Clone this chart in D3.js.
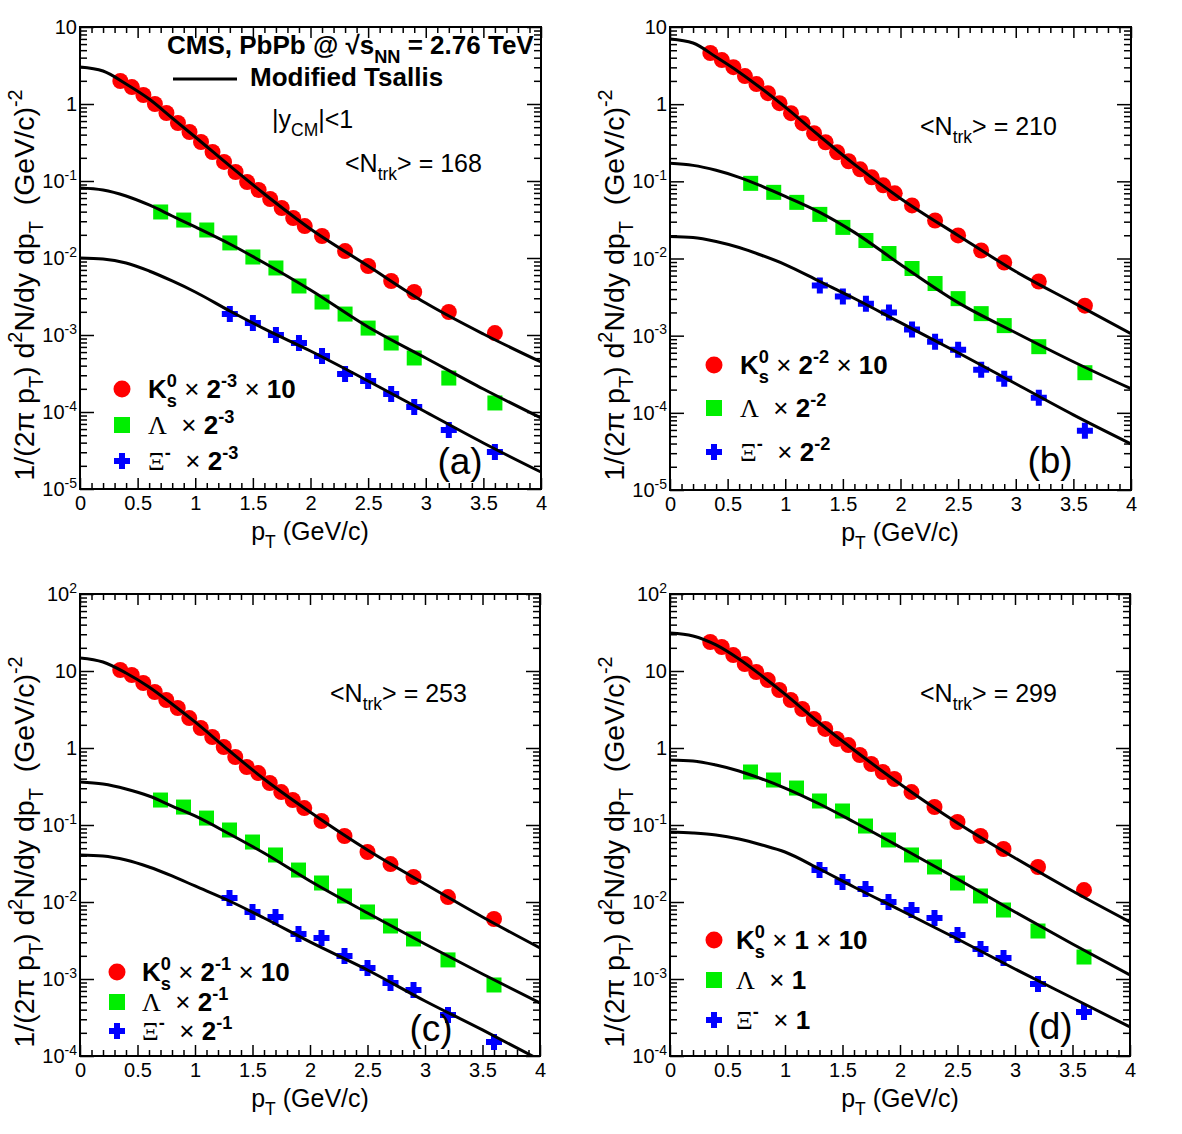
<!DOCTYPE html>
<html>
<head>
<meta charset="utf-8">
<script src="https://cdn.jsdelivr.net/npm/d3@7"></script>
<style>
  body { margin: 0; background: #fff; }
  svg text { white-space: pre; }
</style>
</head>
<body>
<svg id="chart" width="1182" height="1134"></svg>
<script>
// pT bin centres (GeV/c)
var ptK   = [0.35,0.45,0.55,0.65,0.75,0.85,0.95,1.05,1.15,1.25,1.35,1.45,1.55,1.65,1.75,1.85,1.95,2.1,2.3,2.5,2.7,2.9,3.2,3.6];
var ptLam = [0.7,0.9,1.1,1.3,1.5,1.7,1.9,2.1,2.3,2.5,2.7,2.9,3.2,3.6];
var ptXi  = [1.3,1.5,1.7,1.9,2.1,2.3,2.5,2.7,2.9,3.2,3.6];
var ptFit = [0,0.2,0.4,0.6,0.8,1.0,1.3,1.6,2.0,2.5,3.0,3.5,4.0];

// (a) <Ntrk> = 168
var kA   = [1.99,1.66,1.31,1.00,0.764,0.567,0.433,0.321,0.238,0.177,0.131,0.097,0.0764,0.0584,0.0446,0.0331,0.026,0.0193,0.0123,0.00787,0.00503,0.00362,0.00199,0.00106];
var lamA = [0.0396,0.0311,0.0231,0.0157,0.0103,0.00742,0.00433,0.00268,0.00187,0.00123,0.000787,0.000503,0.000276,0.000131];
var xiA  = [0.00187,0.00143,0.00100,0.000787,0.000534,0.000311,0.000253,0.000171,0.000116,5.84e-5,3.02e-5];
var fitKA   = [3.02,2.68,1.82,1.16,0.658,0.373,0.157,0.0678,0.0238,0.00787,0.0026,0.00103,0.000446];
var fitLamA = [0.0811,0.0764,0.0639,0.0488,0.0351,0.0253,0.0152,0.00861,0.00384,0.00127,0.000503,0.000199,8.36e-5];
var fitXiA  = [0.0100,0.0097,0.00861,0.00678,0.00503,0.00362,0.00205,0.0012,0.00062,0.000253,0.0001,3.96e-5,1.66e-5];

// (b) <Ntrk> = 210
var kB   = [4.60,3.73,3.02,2.31,1.82,1.39,1.03,0.764,0.567,0.420,0.321,0.238,0.182,0.143,0.1127,0.0887,0.0699,0.0488,0.0311,0.0199,0.0127,0.00887,0.00503,0.00245];
var lamB = [0.0942,0.0720,0.0534,0.0373,0.0253,0.0171,0.0116,0.00742,0.00474,0.00302,0.00193,0.00135,0.00072,0.000331];
var xiB  = [0.00446,0.00321,0.0026,0.00199,0.0012,0.000836,0.000658,0.000362,0.000276,0.000157,5.84e-5];
var fitKB   = [6.99,6.2,4.08,2.60,1.57,0.914,0.384,0.166,0.0601,0.0199,0.00678,0.00268,0.00106];
var fitLamB = [0.171,0.161,0.139,0.1127,0.0861,0.0639,0.0396,0.0218,0.00836,0.00268,0.00109,0.000459,0.000205];
var fitXiB  = [0.0193,0.01874,0.01663,0.01389,0.01094,0.00836,0.00503,0.00303,0.001475,0.000601,0.000238,9.42e-5,3.96e-5];

// (c) <Ntrk> = 253
var kC   = [10.3,8.88,6.99,5.34,4.20,3.31,2.45,1.82,1.39,1.03,0.764,0.567,0.473,0.351,0.268,0.211,0.166,0.1127,0.0720,0.0446,0.0311,0.0211,0.0116,0.00601];
var lamC = [0.211,0.171,0.123,0.0861,0.0601,0.0408,0.0260,0.01765,0.01197,0.00742,0.00488,0.00331,0.00177,0.000836];
var xiC  = [0.01127,0.00742,0.00639,0.00384,0.00341,0.00199,0.00139,0.000887,0.00072,0.000341,0.000152];
var fitKC   = [14.8,13.1,9.42,6.2,3.73,2.18,0.914,0.396,0.1475,0.0473,0.01713,0.00639,0.00253];
var fitLamC = [0.362,0.341,0.294,0.238,0.1765,0.131,0.0764,0.0433,0.01874,0.0072,0.00285,0.00116,0.000488];
var fitXiC  = [0.0408,0.0396,0.0351,0.0285,0.0218,0.01614,0.0103,0.0062,0.00303,0.00131,0.000518,0.000218,8.87e-5];

// (d) <Ntrk> = 299
var kD   = [23.8,20.5,16.1,12.3,9.70,7.64,5.67,4.20,3.21,2.38,1.77,1.31,1.09,0.811,0.620,0.488,0.396,0.268,0.1713,0.1094,0.0720,0.0488,0.0285,0.0143];
var lamD = [0.488,0.384,0.302,0.205,0.152,0.097,0.0639,0.0408,0.0285,0.01765,0.01197,0.00787,0.0042,0.00193];
var xiD  = [0.026,0.0182,0.01475,0.0100,0.00787,0.0062,0.00373,0.00245,0.00187,0.000861,0.000373];
var fitKD   = [31.2,28.5,21.8,14.3,8.61,5.02,2.11,0.942,0.341,0.106,0.0373,0.01389,0.0055];
var fitLamD = [0.698,0.678,0.601,0.503,0.396,0.302,0.1874,0.1094,0.0518,0.0199,0.00742,0.00285,0.001127];
var fitXiD  = [0.0811,0.0787,0.0742,0.0658,0.055,0.0446,0.0268,0.01566,0.00787,0.00331,0.00135,0.000566,0.000238];

var nTrk = [168, 210, 253, 299];
var panelNames = ["(a)", "(b)", "(c)", "(d)"];
var scaleLabels = ["2", "2", "2", "1"];
var scaleExps = ["-3", "-2", "-1", null];
var xTickVals = [0, 0.5, 1, 1.5, 2, 2.5, 3, 3.5, 4];
var xTickLabels = ["0", "0.5", "1", "1.5", "2", "2.5", "3", "3.5", "4"];

var sans = "'Liberation Sans', Arial, Helvetica, sans-serif";
var serif = "'Liberation Serif', 'Times New Roman', serif";
var RED = "#ff0000", GREEN = "#00ee00", BLUE = "#0000ff";

var svg = d3.select("#chart").attr("font-family", sans);

// text with super/subscripts built from tspans
function rich(sel, x, y, parts, size, anchor) {
  var t = sel.append("text").attr("x", x).attr("y", y)
    .attr("font-size", size).attr("text-anchor", anchor || "start");
  var cur = 0;
  parts.forEach(function (p) {
    if (typeof p === "string") p = {t: p};
    var off = p.sup ? -0.42 * size : (p.sub ? 0.33 * size : 0);
    var ts = t.append("tspan").attr("dy", off - cur)
      .attr("font-size", (p.sup || p.sub) ? 0.7 * size : size)
      .text(p.t);
    if (p.dx) ts.attr("dx", p.dx);
    if (p.b) ts.attr("font-weight", "bold");
    if (p.serif) ts.attr("font-family", serif);
    cur = off;
  });
  return t;
}

function crossPath(s, t) {
  var a = t / 2, b = s / 2;
  return "M" + (-a) + "," + (-b) + "H" + a + "V" + (-a) + "H" + b + "V" + a + "H" + a +
    "V" + b + "H" + (-a) + "V" + a + "H" + (-b) + "V" + (-a) + "H" + (-a) + "Z";
}

var panels = [
  {left: 80, top: 27, width: 461, height: 462, yDom: [1e-5, 10],
   k: kA, lam: lamA, xi: xiA, fk: fitKA, fl: fitLamA, fx: fitXiA,
   leg: {mx: 122, tx: 148, ys: [389, 425, 461]}, ntrk: [345, 172], lab: [460, 474]},
  {left: 670, top: 27, width: 461, height: 463, yDom: [1e-5, 10],
   k: kB, lam: lamB, xi: xiB, fk: fitKB, fl: fitLamB, fx: fitXiB,
   leg: {mx: 714, tx: 740, ys: [365, 408, 452]}, ntrk: [920, 135], lab: [1050, 473]},
  {left: 80, top: 594, width: 460, height: 462, yDom: [1e-4, 100],
   k: kC, lam: lamC, xi: xiC, fk: fitKC, fl: fitLamC, fx: fitXiC,
   leg: {mx: 117, tx: 142, ys: [972, 1002, 1031]}, ntrk: [330, 702], lab: [431, 1041]},
  {left: 670, top: 594, width: 460, height: 462, yDom: [1e-4, 100],
   k: kD, lam: lamD, xi: xiD, fk: fitKD, fl: fitLamD, fx: fitXiD,
   leg: {mx: 714, tx: 736, ys: [940, 980, 1020]}, ntrk: [920, 702], lab: [1050, 1039]}
];

panels.forEach(function (P, i) {
  var g = svg.append("g");
  var x = d3.scaleLinear().domain([0, 4]).range([P.left, P.left + P.width]);
  var y = d3.scaleLog().domain(P.yDom).range([P.top + P.height, P.top]);
  var bottom = P.top + P.height, right = P.left + P.width;

  var clipId = "clip" + i;
  svg.append("clipPath").attr("id", clipId).append("rect")
    .attr("x", P.left).attr("y", P.top).attr("width", P.width).attr("height", P.height);

  // data points
  g.selectAll(null).data(d3.zip(ptK, P.k)).join("circle")
    .attr("cx", function (d) { return x(d[0]); })
    .attr("cy", function (d) { return y(d[1]); })
    .attr("r", 8).attr("fill", RED);
  g.selectAll(null).data(d3.zip(ptLam, P.lam)).join("rect")
    .attr("x", function (d) { return x(d[0]) - 7.5; })
    .attr("y", function (d) { return y(d[1]) - 7.5; })
    .attr("width", 15).attr("height", 15).attr("fill", GREEN);
  g.selectAll(null).data(d3.zip(ptXi, P.xi)).join("path")
    .attr("d", crossPath(16, 6))
    .attr("transform", function (d) { return "translate(" + x(d[0]) + "," + y(d[1]) + ")"; })
    .attr("fill", BLUE);

  // modified Tsallis fits
  var line = d3.line()
    .x(function (d) { return x(d[0]); })
    .y(function (d) { return y(d[1]); })
    .curve(d3.curveMonotoneX);
  [P.fk, P.fl, P.fx].forEach(function (f) {
    g.append("path").datum(d3.zip(ptFit, f))
      .attr("clip-path", "url(#" + clipId + ")")
      .attr("d", line).attr("fill", "none")
      .attr("stroke", "#000").attr("stroke-width", 3);
  });

  // ticks (ROOT style, inside the frame on all sides)
  var xMinor = d3.range(0, 41).map(function (j) { return j / 10; })
    .filter(function (v) { return Math.abs(v * 2 - Math.round(v * 2)) > 1e-6; });
  var lo = Math.round(Math.log10(P.yDom[0])), hi = Math.round(Math.log10(P.yDom[1]));
  var yMajor = d3.range(lo, hi + 1).map(function (e) { return Math.pow(10, e); });
  var yMinor = [];
  d3.range(lo, hi).forEach(function (e) {
    for (var m = 2; m <= 9; m++) yMinor.push(m * Math.pow(10, e));
  });

  function styleAxis(a) {
    a.select(".domain").remove();
    a.selectAll("line").attr("stroke", "#000").attr("stroke-width", 1.5);
  }
  g.append("g").attr("transform", "translate(0," + bottom + ")")
    .call(d3.axisBottom(x).tickValues(xTickVals).tickSize(-11).tickSizeOuter(0).tickPadding(7)
      .tickFormat(function (d, j) { return xTickLabels[j]; }))
    .call(styleAxis)
    .call(function (a) { a.selectAll("text").attr("font-size", 20).attr("font-family", sans).attr("fill", "#000"); });
  g.append("g").attr("transform", "translate(0," + bottom + ")")
    .call(d3.axisBottom(x).tickValues(xMinor).tickSize(-6).tickSizeOuter(0).tickFormat(""))
    .call(styleAxis);
  g.append("g").attr("transform", "translate(0," + P.top + ")")
    .call(d3.axisTop(x).tickValues(xTickVals).tickSize(-11).tickSizeOuter(0).tickFormat(""))
    .call(styleAxis);
  g.append("g").attr("transform", "translate(0," + P.top + ")")
    .call(d3.axisTop(x).tickValues(xMinor).tickSize(-6).tickSizeOuter(0).tickFormat(""))
    .call(styleAxis);
  g.append("g").attr("transform", "translate(" + P.left + ",0)")
    .call(d3.axisLeft(y).tickValues(yMajor).tickSize(-14).tickSizeOuter(0).tickFormat(""))
    .call(styleAxis);
  g.append("g").attr("transform", "translate(" + P.left + ",0)")
    .call(d3.axisLeft(y).tickValues(yMinor).tickSize(-7).tickSizeOuter(0).tickFormat(""))
    .call(styleAxis);
  g.append("g").attr("transform", "translate(" + right + ",0)")
    .call(d3.axisRight(y).tickValues(yMajor).tickSize(-14).tickSizeOuter(0).tickFormat(""))
    .call(styleAxis);
  g.append("g").attr("transform", "translate(" + right + ",0)")
    .call(d3.axisRight(y).tickValues(yMinor).tickSize(-7).tickSizeOuter(0).tickFormat(""))
    .call(styleAxis);

  g.append("rect").attr("x", P.left).attr("y", P.top)
    .attr("width", P.width).attr("height", P.height)
    .attr("fill", "none").attr("stroke", "#000").attr("stroke-width", 2);

  // y tick labels
  d3.range(lo, hi + 1).forEach(function (e) {
    var parts = e === 0 ? ["1"] : e === 1 ? ["10"] : ["10", {t: String(e), sup: 1}];
    rich(g, P.left - 3, y(Math.pow(10, e)) + 7, parts, 20, "end");
  });

  // axis titles
  rich(g, P.left + 230, bottom + 51, ["p", {t: "T", sub: 1}, " (GeV/c)"], 25, "middle");
  var yt = rich(g, 0, 0, ["1/(2\u03c0 p", {t: "T", sub: 1}, ") d", {t: "2", sup: 1},
    "N/dy dp", {t: "T", sub: 1}, "  (GeV/c)", {t: "-2", sup: 1}], 28.5, "middle");
  yt.attr("transform", "translate(" + (P.left - 46) + "," + (P.top + 258) + ") rotate(-90)");

  // <Ntrk>
  rich(g, P.ntrk[0], P.ntrk[1], ["<N", {t: "trk", sub: 1}, "> = " + nTrk[i]], 25);

  // panel label
  g.append("text").attr("x", P.lab[0]).attr("y", P.lab[1])
    .attr("text-anchor", "middle").attr("font-size", 37).text(panelNames[i]);

  // legend
  var L = P.leg, fs = 26;
  g.append("circle").attr("cx", L.mx).attr("cy", L.ys[0]).attr("r", 8.5).attr("fill", RED);
  g.append("rect").attr("x", L.mx - 8).attr("y", L.ys[1] - 8).attr("width", 16).attr("height", 16).attr("fill", GREEN);
  g.append("path").attr("d", crossPath(16, 6)).attr("transform", "translate(" + L.mx + "," + L.ys[2] + ")").attr("fill", BLUE);

  var fac = scaleExps[i] ? [{t: scaleLabels[i], b: 1}, {t: scaleExps[i], b: 1, sup: 1}] : [{t: scaleLabels[i], b: 1}];
  rich(g, L.tx, L.ys[0] + 9, [{t: "K", b: 1}, {t: "0", b: 1, sup: 1}, {t: "s", b: 1, sub: 1, dx: -0.7 * fs * 0.556},
    " \u00d7 "].concat(fac).concat([" \u00d7 ", {t: "10", b: 1}]), fs);
  rich(g, L.tx, L.ys[1] + 9, [{t: "\u039b", serif: 1}, "  \u00d7 "].concat(fac), fs);
  rich(g, L.tx, L.ys[2] + 9, [{t: "\u039e", serif: 1}, {t: "-", b: 1, sup: 1}, "  \u00d7 "].concat(fac), fs);
});

// header of panel (a)
rich(svg, 167, 54, [{t: "CMS, PbPb @ \u221as", b: 1}, {t: "NN", b: 1, sub: 1}, {t: " = 2.76 TeV", b: 1}], 26);
svg.append("line").attr("x1", 173).attr("x2", 237).attr("y1", 79).attr("y2", 79)
  .attr("stroke", "#000").attr("stroke-width", 3);
svg.append("text").attr("x", 250).attr("y", 86).attr("font-size", 26).attr("font-weight", "bold")
  .text("Modified Tsallis");
rich(svg, 272, 128, ["|y", {t: "CM", sub: 1}, "|<1"], 25);
</script>
</body>
</html>
